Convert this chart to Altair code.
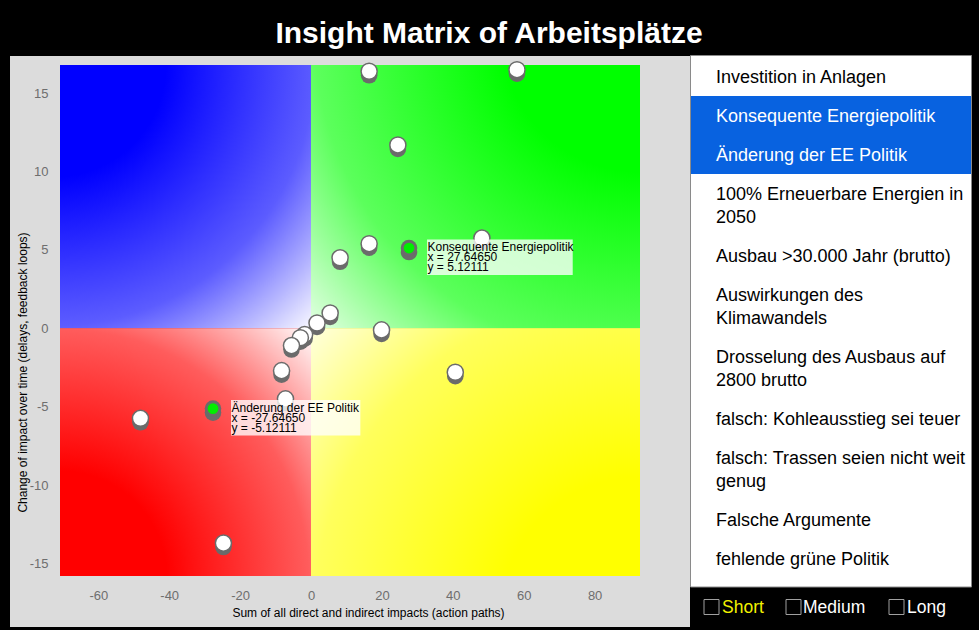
import altair as alt
import pandas as pd

# ---------------- data ----------------
TITLE = "Insight Matrix of Arbeitsplätze"
X_TITLE = "Sum of all direct and indirect impacts (action paths)"
Y_TITLE = "Change of impact over time (delays, feedback loops)"

x_domain = [-70.8, 92.8]
y_domain = [-15.8, 16.8]
x_ticks = [-60, -40, -20, 0, 20, 40, 60, 80]
y_ticks = [-15, -10, -5, 0, 5, 10, 15]

point_x = [16.4, 58.1, 24.5, 48.2, 16.4, 8.2, 5.4, 1.7, 19.9, -1.8, -3.0, -5.5,
           -8.3, -7.2, 40.7, -48.1, -24.7]
point_y = [16.4, 16.5, 11.7, 5.76, 5.4, 4.5, 0.98, 0.34, -0.1, -0.4, -0.6, -1.1,
           -2.7, -4.5, -2.8, -5.74, -13.7]

sel_names = ["Konsequente Energiepolitik", "Änderung der EE Politik"]
sel_x = [27.64650, -27.64650]
sel_y = [5.12111, -5.12111]

list_items = [
    ["Investition in Anlagen"],
    ["Konsequente Energiepolitik"],
    ["Änderung der EE Politik"],
    ["100% Erneuerbare Energien in", "2050"],
    ["Ausbau >30.000 Jahr (brutto)"],
    ["Auswirkungen des", "Klimawandels"],
    ["Drosselung des Ausbaus auf", "2800 brutto"],
    ["falsch: Kohleausstieg sei teuer"],
    ["falsch: Trassen seien nicht weit", "genug"],
    ["Falsche Argumente"],
    ["fehlende grüne Politik"],
]
list_selected = [False, True, True, False, False, False, False, False, False, False, False]

duration_labels = ["Short", "Medium", "Long"]
duration_active = [True, False, False]

# ---------------- layout / style ----------------
FONT = "Liberation Sans"
W, H = 580, 511
PAD = {"left": 60, "top": 65, "right": 339, "bottom": 54}
ROW_TOP0, ROW_H, LINE_H = -8, 39, 23
LIST_X = 656
CHECK_BOX_X = [651.5, 733.5, 836.5]
CHECK_TEXT_X = [662, 743, 847]

xs = alt.Scale(domain=x_domain, nice=False, zero=False)
ys = alt.Scale(domain=y_domain, nice=False, zero=False)
LBL = "'' + datum.value"
XAX = alt.Axis(values=x_ticks, title=X_TITLE, titleX=308, titleY=40, labelExpr=LBL,
               titleBaseline="alphabetic", titleAlign="center", labelPadding=13, zindex=5)
YAX = alt.Axis(values=y_ticks, title=Y_TITLE, titleX=-34, titleY=307, labelExpr=LBL,
               titleBaseline="alphabetic", titleAlign="center", labelPadding=12, zindex=5)


def X(f):
    return alt.X(f, type="quantitative", scale=xs, axis=XAX)


def Y(f):
    return alt.Y(f, type="quantitative", scale=ys, axis=YAX)


one = pd.DataFrame({"a": [0]})
layers = []

# grey panel + white list panel
layers.append(alt.Chart(one).mark_rect(color="#dcdcdc").encode(
    x=alt.value(-50), x2=alt.value(630), y=alt.value(-9), y2=alt.value(562)))
layers.append(alt.Chart(one).mark_rect(fill="white", stroke="#8a8a8a", strokeWidth=1).encode(
    x=alt.value(630.5), x2=alt.value(911.5), y=alt.value(-9.5), y2=alt.value(522)))

# list rows
rows, hl = [], []
top = ROW_TOP0
for lines, sel in zip(list_items, list_selected):
    h = ROW_H + LINE_H * (len(lines) - 1)
    if sel:
        hl.append({"top": top, "bottom": top + h})
    for i, ln in enumerate(lines):
        rows.append({"text": ln, "ty": top + 26 + LINE_H * i,
                     "tc": "white" if sel else "black"})
    top += h
layers.append(alt.Chart(pd.DataFrame(hl)).mark_rect(color="#0862e0").encode(
    x=alt.value(631), x2=alt.value(911),
    y=alt.Y("top:Q", scale=None), y2=alt.Y2("bottom")))
layers.append(alt.Chart(pd.DataFrame(rows)).mark_text(
    align="left", baseline="alphabetic", fontSize=18, font=FONT).encode(
    x=alt.value(LIST_X), y=alt.Y("ty:Q", scale=None), text="text:N",
    color=alt.Color("tc:N", scale=None)))

# duration checkboxes
chk = pd.DataFrame({"label": duration_labels, "bx": CHECK_BOX_X, "tx": CHECK_TEXT_X,
                    "tc": ["#f2f200" if a else "white" for a in duration_active]})
layers.append(alt.Chart(chk).mark_square(size=225, filled=False, stroke="#a0a0a0",
                                         strokeWidth=1, opacity=1).encode(
    x=alt.X("bx:Q", scale=None), y=alt.value(542)))
layers.append(alt.Chart(chk).mark_text(align="left", baseline="alphabetic", fontSize=17.5,
                                       font=FONT).encode(
    x=alt.X("tx:Q", scale=None), y=alt.value(548), text="label:N",
    color=alt.Color("tc:N", scale=None)))

# title
layers.append(alt.Chart(pd.DataFrame({"t": [TITLE]})).mark_text(
    align="center", baseline="alphabetic", fontSize=30, fontWeight="bold",
    color="white", font=FONT).encode(x=alt.value(429), y=alt.value(-22), text="t:N"))


# quadrants with gradients
def grad(color, mid, cx, cy):
    return alt.RadialGradient(
        gradient="radial",
        stops=[alt.GradientStop(color=color, offset=0),
               alt.GradientStop(color=color, offset=0.3),
               alt.GradientStop(color=mid, offset=0.7),
               alt.GradientStop(color="white", offset=1)],
        x1=cx, y1=cy, r1=0, x2=cx, y2=cy, r2=1.414)


quads = [
    (x_domain[0], 0, 0, y_domain[1], "#0000ff", "#5c5cff", 0, 0),
    (0, x_domain[1], 0, y_domain[1], "#00ff00", "#5cff5c", 1, 0),
    (x_domain[0], 0, y_domain[0], 0, "#ff0000", "#ff5c5c", 0, 1),
    (0, x_domain[1], y_domain[0], 0, "#ffff00", "#ffff5c", 1, 1),
]
for qx, qx2, qy, qy2, col, mid, cx, cy in quads:
    df = pd.DataFrame({"x": [qx], "x2": [qx2], "y": [qy], "y2": [qy2]})
    layers.append(alt.Chart(df).mark_rect(fill=grad(col, mid, cx, cy)).encode(
        x=X("x"), x2="x2", y=Y("y"), y2="y2"))

# points
pts = pd.DataFrame({"x": point_x, "y": point_y})
sel = pd.DataFrame({"name": sel_names, "x": sel_x, "y": sel_y})
allp = pd.concat([pts, sel[["x", "y"]]], ignore_index=True)
layers.append(alt.Chart(allp).mark_circle(color="#6b6b6b", size=275, opacity=1,
                                          yOffset=4).encode(x=X("x"), y=Y("y")))
layers.append(alt.Chart(pts).mark_circle(fill="white", stroke="#6b6b6b", strokeWidth=1.5,
                                         size=260, opacity=1).encode(x=X("x"), y=Y("y")))
layers.append(alt.Chart(sel).mark_circle(color="#6b6b6b", size=275, opacity=1).encode(
    x=X("x"), y=Y("y")))
layers.append(alt.Chart(sel).mark_circle(color="#00ee00", size=115, opacity=1).encode(
    x=X("x"), y=Y("y")))

# annotations
for n, ax_, ay_ in zip(sel_names, sel_x, sel_y):
    df = pd.DataFrame({"x": [ax_], "y": [ay_],
                       "label": [f"{n}\nx = {ax_:.5f}\ny = {ay_:.5f}"]})
    w = 5.45 * len(n) + 4
    layers.append(alt.Chart(df).mark_rect(fill="white", opacity=0.78, xOffset=18,
                                          x2Offset=18 + w, yOffset=-8.5, y2Offset=27).encode(
        x=X("x"), x2="x", y=Y("y"), y2="y"))
    layers.append(alt.Chart(df).mark_text(align="left", baseline="top", dx=18.5, dy=-6,
                                          fontSize=12, lineHeight=10, lineBreak="\n",
                                          color="black", font=FONT).encode(
        x=X("x"), y=Y("y"), text="label:N"))

chart = alt.layer(*layers).properties(
    width=W, height=H, padding=PAD,
    autosize=alt.AutoSizeParams(type="none"),
    background="black",
).configure(font=FONT).configure_view(stroke="transparent").configure_axis(
    grid=False, domain=False, ticks=False, tickSize=0,
    labelColor="#6e6e6e", labelFontSize=13, labelFont=FONT,
    titleColor="black", titleFontSize=12, titleFontWeight="normal", titleFont=FONT,
)

chart.save("out.html", embed_options={"renderer": "svg", "actions": False})
